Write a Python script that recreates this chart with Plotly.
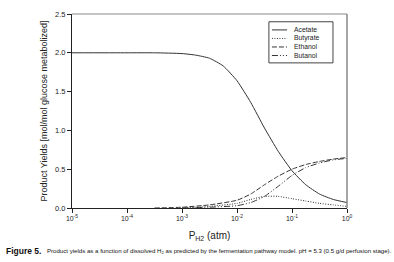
import plotly.graph_objects as go

# log10(P_H2) positions and yields
acetate_x = [-5, -4, -3.5, -3.0, -2.75, -2.5, -2.25, -2.0, -1.75, -1.5, -1.25, -1.0, -0.75, -0.5, -0.25, 0.0]
acetate_y = [2.0, 2.0, 2.0, 1.99, 1.97, 1.93, 1.83, 1.64, 1.36, 1.03, 0.73, 0.48, 0.30, 0.18, 0.11, 0.07]

butyrate_x = [-3.0, -2.5, -2.0, -1.75, -1.5, -1.25, -1.0, -0.75, -0.5, -0.25, 0.0]
butyrate_y = [0.0, 0.02, 0.06, 0.11, 0.15, 0.15, 0.12, 0.09, 0.06, 0.04, 0.02]

ethanol_x = [-3.5, -3.0, -2.5, -2.0, -1.75, -1.5, -1.25, -1.0, -0.75, -0.5, -0.25, 0.0]
ethanol_y = [0.0, 0.01, 0.04, 0.10, 0.18, 0.30, 0.41, 0.50, 0.56, 0.60, 0.63, 0.65]

butanol_x = [-3.0, -2.5, -2.0, -1.75, -1.5, -1.25, -1.0, -0.75, -0.5, -0.25, 0.0]
butanol_y = [0.0, 0.01, 0.03, 0.07, 0.15, 0.28, 0.42, 0.52, 0.58, 0.62, 0.64]

series_names = ["Acetate", "Butyrate", "Ethanol", "Butanol"]

xtick_vals = [-5, -4, -3, -2, -1, 0]
xtick_text = ["10<sup>-5</sup>", "10<sup>-4</sup>", "10<sup>-3</sup>", "10<sup>-2</sup>", "10<sup>-1</sup>", "10<sup>0</sup>"]
ytick_vals = [0.0, 0.5, 1.0, 1.5, 2.0, 2.5]

FONT = "Liberation Sans, Arial, sans-serif"
col = "#333333"
dashes = ["solid", "1px,1.5px", "5px,2px", "6px,2px,1px,2px,1px,2px"]

fig = go.Figure()
for name, xs, ys, dash in zip(series_names,
                              [acetate_x, butyrate_x, ethanol_x, butanol_x],
                              [acetate_y, butyrate_y, ethanol_y, butanol_y],
                              dashes):
    fig.add_trace(go.Scatter(
        x=[10 ** v for v in xs], y=ys, name=name, mode="lines",
        line=dict(color=col, width=1, dash=dash, shape="spline", smoothing=0.5),
        showlegend=False,
    ))

# compact legend drawn in paper coordinates
shapes = [
    dict(type="line", xref="paper", yref="paper", x0=0, x1=1, y0=1, y1=1,
         line=dict(color="#888888", width=1)),
    dict(type="line", xref="paper", yref="paper", x0=1, x1=1, y0=0, y1=1,
         line=dict(color="#888888", width=1.5)),
    dict(type="rect", xref="paper", yref="paper", x0=0.716, x1=0.949, y0=0.748, y1=0.96,
         line=dict(color="#444444", width=1), fillcolor="white", layer="above"),
]
annotations = []
entry_y = [0.918, 0.874, 0.830, 0.786]
for name, dash, yy in zip(series_names, dashes, entry_y):
    shapes.append(dict(type="line", xref="paper", yref="paper", x0=0.727, x1=0.782,
                       y0=yy, y1=yy, line=dict(color=col, width=1, dash=dash), layer="above"))
    annotations.append(dict(text=name, xref="paper", yref="paper", x=0.803, y=yy,
                            xanchor="left", yanchor="middle", align="left", showarrow=False,
                            borderpad=0,
                            font=dict(size=6.8, family=FONT, color="#222222")))

annotations += [
    dict(text="<b>Figure 5.</b>", xref="paper", yref="paper",
         x=-0.247, y=-0.22, xanchor="left", yanchor="middle", showarrow=False,
         font=dict(size=8.5, family=FONT, color="#111111")),
    dict(text="Product yields as a function of dissolved H<sub>2</sub> as predicted by the fermentation pathway model. pH = 5.3 (0.5 g/d perfusion stage).",
         xref="paper", yref="paper",
         x=-0.1, y=-0.22, xanchor="left", yanchor="middle", showarrow=False,
         font=dict(size=6.1, family=FONT, color="#111111")),
]

fig.update_layout(
    width=394, height=262,
    margin=dict(l=72, r=47, t=10, b=54),
    paper_bgcolor="white", plot_bgcolor="white",
    font=dict(family=FONT, color="#222222", size=7),
    showlegend=False,
    xaxis=dict(
        type="log", range=[-5, 0],
        tickvals=[10 ** v for v in xtick_vals], ticktext=xtick_text,
        ticks="outside", ticklen=4, tickcolor="#222222",
        showline=True, linecolor="#222222", linewidth=1,
        showgrid=False, zeroline=False,
        tickfont=dict(size=7),
        title=dict(text="P<sub>H2</sub> (atm)", font=dict(size=10), standoff=10),
    ),
    yaxis=dict(
        range=[0, 2.5], tickvals=ytick_vals, tickformat=".1f",
        ticks="outside", ticklen=4, tickcolor="#222222",
        showline=True, linecolor="#222222", linewidth=1,
        showgrid=False, zeroline=False,
        tickfont=dict(size=7.5),
        title=dict(text="Product Yields [mol/mol glucose metabolized]", font=dict(size=9), standoff=5),
    ),
    shapes=shapes,
    annotations=annotations,
)

fig.write_html("out.html")
